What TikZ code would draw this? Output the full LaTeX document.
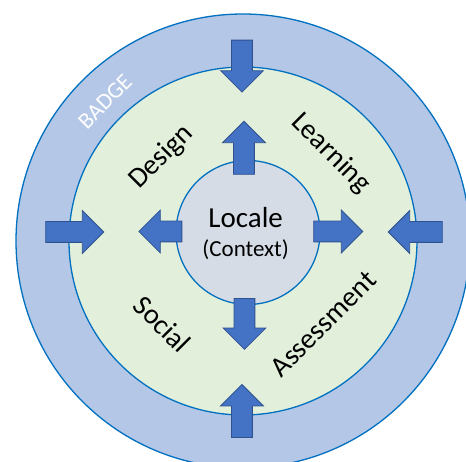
\documentclass[tikz,border=0pt]{standalone}
\usepackage{fontspec}
\setmainfont{Carlito}
\usepackage{xcolor}
\usepackage{tikz}
\usetikzlibrary{shapes.arrows}

\definecolor{badgeblue}{HTML}{B4C7E7}
\definecolor{ringgreen}{HTML}{E2EFDA}
\definecolor{localegray}{HTML}{D6DCE5}
\definecolor{ringline}{HTML}{0070C0}
\definecolor{arrowblue}{HTML}{4472C4}
\definecolor{arrowedge}{HTML}{2F528F}

\begin{document}
\begin{tikzpicture}[x=1pt,y=1pt,
                    ring/.style={circle,draw=ringline,line width=1.3pt,inner sep=0pt},
                    block arrow/.style={single arrow,draw=arrowedge,fill=arrowblue,line width=0.8pt,
                        inner sep=10pt,single arrow head extend=11pt,anchor=tip},
                    ring label/.style={font=\fontsize{28.5}{32}\selectfont}]
 \clip (-243,-221) rectangle (223,241);

%Rings
 \node[ring,fill=badgeblue,minimum size=454pt] (OuterRing) at (0,0) {};
 \node[ring,fill=ringgreen,minimum size=348pt] (MiddleRing) at (0,0) {};
 \node[ring,fill=localegray,minimum size=144pt] (InnerRing) at (5,8.5) {};

%Arrows, placed by their tips
 \foreach \name/\x/\y/\dir/\len in {OutTop/-1/148.3/270/52, OutBottom/-1/-143/90/53,
                                    OutLeft/-138.7/9/0/58, OutRight/144.7/9/180/54,
                                    InTop/1/120.3/90/53, InBottom/1.5/-109/270/51,
                                    InLeft/-104.7/9.5/180/43, InRight/120.3/9.5/0/49}
    \node[block arrow,shape border rotate=\dir,minimum height=\len pt] (Arrow\name) at (\x,\y) {};

%Centre text
 \node[font=\fontsize{29}{34}\selectfont] (LocaleText) at (2.7,23) {Locale};
 \node[font=\fontsize{23}{27}\selectfont] (ContextText) at (2.7,-9) {(Context)};

%Ring labels
 \node[ring label,rotate=45] (Design) at (-81.3,83.7) {Design};
 \node[ring label,rotate=-45] (Learning) at (87.7,87.7) {Learning};
 \node[ring label,rotate=-45] (Social) at (-80.5,-83) {Social};
 \node[ring label,rotate=45] (Assessment) at (80.3,-83) {Assessment};

 \node[font=\fontsize{23}{27}\selectfont,text=white,rotate=45] (BadgeText) at (-138,139.3) {BADGE};
\end{tikzpicture}
\end{document}
